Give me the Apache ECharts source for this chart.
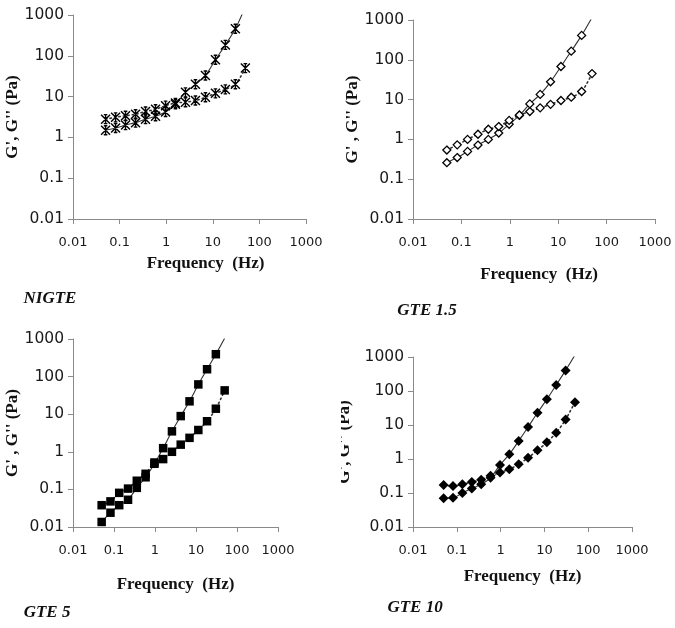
<!DOCTYPE html>
<html>
<head>
<meta charset="utf-8">
<script src="https://cdn.jsdelivr.net/npm/echarts@6/dist/echarts.min.js"></script>
<style>html,body{margin:0;padding:0;background:#fff}#c{width:675px;height:628px}</style>
</head>
<body>
<div id="c"></div>
<script>
// Frequencies (Hz)
const freq = [0.05, 0.082, 0.134, 0.22, 0.36, 0.59, 0.97, 1.58, 2.59, 4.24, 6.95, 11.4, 18.6, 30.5, 50];
// NIGTE
const nigteGp  = [1.5, 1.7, 2.0, 2.3, 2.8, 3.3, 4.2, 6.5, 12.7, 20, 33, 80, 185, 460, 1600];
const nigteGpp = [2.8, 3.1, 3.4, 3.7, 4.3, 4.9, 6.0, 7.0, 7.3, 8.0, 9.6, 12, 15, 20, 50];
// GTE 1.5
const gte15Gp  = [0.26, 0.35, 0.5, 0.72, 1.0, 1.45, 2.4, 4.0, 7.8, 13.5, 28, 68, 165, 410, 1150];
const gte15Gpp = [0.54, 0.73, 1.0, 1.35, 1.8, 2.1, 3.0, 4.1, 5.0, 6.2, 7.6, 9.5, 11.5, 16, 45];
// GTE 5
const gte5Gp   = [0.0136, 0.024, 0.038, 0.053, 0.11, 0.21, 0.48, 1.25, 3.5, 8.9, 22, 62, 157, 394, 1050];
const gte5Gpp  = [0.038, 0.048, 0.081, 0.105, 0.17, 0.26, 0.52, 0.64, 1.0, 1.55, 2.35, 3.8, 6.5, 14, 43];
// GTE 10
const gte10Gp  = [0.07, 0.072, 0.1, 0.135, 0.18, 0.28, 0.67, 1.37, 3.4, 8.7, 23, 57, 150, 404, 1150];
const gte10Gpp = [0.172, 0.16, 0.18, 0.21, 0.245, 0.32, 0.4, 0.5, 0.7, 1.09, 1.8, 3.1, 5.9, 14.5, 47];

const tickLabels = ['0.01', '0.1', '1', '10', '100', '1000'];
const panelNames = ['NIGTE', 'GTE 1.5', 'GTE 5', 'GTE 10'];
const xTitle = 'Frequency  (Hz)';
const yTitles = ["G', G'' (Pa)", "G' , G'' (Pa)", "G' , G'' (Pa)", "G', G'' (Pa)"];

const starPath = 'path://M0,0L10,10M10,0L0,10M5,0L5,10M3,0L7,0M3,10L7,10';
const panels = [
  {gp: nigteGp, gpp: nigteGpp, grid: {left: 73, top: 15, width: 233, height: 204}, sym: starPath, size: 9, fill: 'rgba(0,0,0,0)', bw: 1.4,
   label: {x: 50, y: 299}, xGap: 36, xShift: 32, yGap: 46},
  {gp: gte15Gp, gpp: gte15Gpp, grid: {left: 413, top: 20, width: 242, height: 199}, sym: 'diamond', size: 8, fill: '#fff', bw: 1.3,
   label: {x: 427, y: 311}, xGap: 47, xShift: 10, yGap: 48},
  {gp: gte5Gp, gpp: gte5Gpp, grid: {left: 73, top: 339, width: 205, height: 188}, sym: 'rect', size: 8.5, fill: '#000', bw: 0,
   label: {x: 47, y: 613}, xGap: 49, xShift: 0, yGap: 48},
  {gp: gte10Gp, gpp: gte10Gpp, grid: {left: 413, top: 357, width: 219, height: 170}, sym: 'diamond', size: 10, fill: '#000', bw: 0,
   label: {x: 415, y: 608}, xGap: 41, xShift: 0, yGap: 60}
];

const fmt = v => tickLabels[Math.round(Math.log10(v)) + 2];
const axisLine = {lineStyle: {color: '#8a8a8a', width: 1}};
const axisTick = {length: 5, lineStyle: {color: '#8a8a8a', width: 1}};

const grids = [], xAxes = [], yAxes = [], series = [], graphics = [];
panels.forEach((p, i) => {
  grids.push(p.grid);
  xAxes.push({
    type: 'log', logBase: 10, min: 0.01, max: 1000, gridIndex: i,
    axisLine, axisTick, splitLine: {show: false}, minorTick: {show: false},
    axisLabel: {formatter: fmt, fontFamily: 'DejaVu Sans', fontSize: 13, color: '#1a1a1a', margin: 17, showMinLabel: true, showMaxLabel: true},
    name: xTitle, nameLocation: 'middle', nameGap: p.xGap,
    nameTextStyle: {fontFamily: 'Liberation Serif', fontWeight: 'bold', fontSize: 17, color: '#111', padding: [0, 0, 0, p.xShift]}
  });
  yAxes.push({
    type: 'log', logBase: 10, min: 0.01, max: 1000, gridIndex: i,
    axisLine: {show: true, lineStyle: {color: '#8a8a8a', width: 1}}, axisTick: {show: true, length: 5, lineStyle: {color: '#8a8a8a', width: 1}},
    splitLine: {show: false}, minorTick: {show: false},
    axisLabel: {formatter: fmt, fontFamily: 'DejaVu Sans', fontSize: 15.5, color: '#1a1a1a', margin: 9, showMinLabel: true, showMaxLabel: true},
    name: yTitles[i], nameLocation: 'middle', nameGap: p.yGap, nameRotate: 90,
    nameTextStyle: {fontFamily: 'Liberation Serif', fontWeight: 'bold', fontSize: 17, color: '#111'}
  });
  const mk = arr => freq.map((f, k) => [f, arr[k]]);
  series.push({
    type: 'line', xAxisIndex: i, yAxisIndex: i, data: mk(p.gp), smooth: 0.3, clip: true,
    symbol: p.sym, symbolSize: p.size, showAllSymbol: true,
    lineStyle: {color: '#333', width: 1.1},
    itemStyle: {color: p.fill, borderColor: '#000', borderWidth: p.bw},
    emphasis: {disabled: true}, animation: false
  });
  series.push({
    type: 'line', xAxisIndex: i, yAxisIndex: i, data: mk(p.gpp), smooth: 0.3, clip: true,
    symbol: p.sym, symbolSize: p.size, showAllSymbol: true,
    lineStyle: {color: '#333', width: 1.6, type: [1.5, 3], cap: 'round'},
    itemStyle: {color: p.fill, borderColor: '#000', borderWidth: p.bw},
    emphasis: {disabled: true}, animation: false
  });
  graphics.push({
    type: 'text', x: p.label.x, y: p.label.y, z: 10,
    style: {text: panelNames[i], fontFamily: 'Liberation Serif', fontWeight: 'bold', fontStyle: 'italic', fontSize: 17, fill: '#111', align: 'center', verticalAlign: 'middle'}
  });
});
// mask the cropped-off left part of the last panel's y-axis title
graphics.push({type: 'rect', shape: {x: 325, y: 380, width: 16, height: 130}, style: {fill: '#fff'}, z: 100});

const chart = echarts.init(document.getElementById('c'), null, {renderer: 'canvas'});
chart.setOption({
  animation: false,
  grid: grids, xAxis: xAxes, yAxis: yAxes, series, graphic: graphics
});
</script>
</body>
</html>
